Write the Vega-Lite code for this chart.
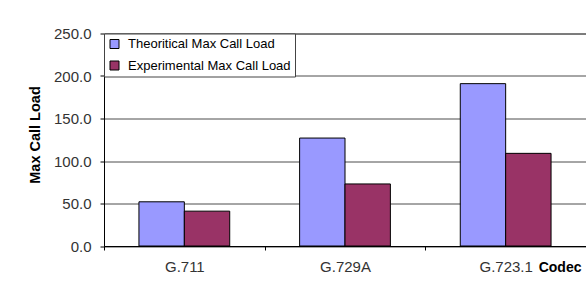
{
  "$schema": "https://vega.github.io/schema/vega-lite/v6.json",
  "width": 482,
  "height": 212.5,
  "autosize": {"type": "none"},
  "padding": {"left": 104, "top": 33.5, "right": 0, "bottom": 42},
  "background": "white",
  "config": {
    "font": "Liberation Sans",
    "view": {"stroke": "#808080", "strokeWidth": 1}
  },
  "data": {
    "values": [
      {"codec": "G.711", "series": "Theoritical Max Call Load", "value": 52},
      {"codec": "G.711", "series": "Experimental Max Call Load", "value": 41},
      {"codec": "G.729A", "series": "Theoritical Max Call Load", "value": 127},
      {"codec": "G.729A", "series": "Experimental Max Call Load", "value": 73},
      {"codec": "G.723.1", "series": "Theoritical Max Call Load", "value": 191},
      {"codec": "G.723.1", "series": "Experimental Max Call Load", "value": 109}
    ]
  },
  "mark": {"type": "bar", "stroke": "black", "strokeWidth": 1},
  "encoding": {
    "x": {
      "field": "codec",
      "type": "nominal",
      "sort": ["G.711", "G.729A", "G.723.1"],
      "scale": {"paddingInner": 0, "paddingOuter": 0},
      "axis": {
        "title": "Codec",
        "titleFontSize": 14,
        "titleFontWeight": "bold",
        "titleColor": "black",
        "titleAnchor": "end",
        "titleAlign": "right",
        "titleBaseline": "middle",
        "titleX": 477,
        "titleY": 21,
        "labelAngle": 0,
        "labelFontSize": 15,
        "labelColor": "#333",
        "labelPadding": 9,
        "tickSize": 4,
        "tickColor": "black",
        "tickBand": "extent",
        "domainColor": "black",
        "grid": false
      }
    },
    "xOffset": {
      "field": "series",
      "type": "nominal",
      "sort": ["Theoritical Max Call Load", "Experimental Max Call Load"],
      "scale": {"paddingInner": 0, "paddingOuter": 0.77}
    },
    "y": {
      "field": "value",
      "type": "quantitative",
      "scale": {"domain": [0, 250], "nice": false},
      "axis": {
        "title": "Max Call Load",
        "titleFontSize": 14.5,
        "titleFontWeight": "bold",
        "titleColor": "black",
        "titleAngle": 270,
        "titleAlign": "center",
        "titleBaseline": "middle",
        "titleX": -69,
        "titleY": 101,
        "values": [0, 50, 100, 150, 200, 250],
        "format": ".1f",
        "labelFontSize": 15,
        "labelColor": "#333",
        "labelPadding": 9,
        "tickSize": 4,
        "tickColor": "black",
        "domainColor": "black",
        "gridColor": "black",
        "gridOpacity": 0.7
      }
    },
    "color": {
      "field": "series",
      "type": "nominal",
      "sort": ["Theoritical Max Call Load", "Experimental Max Call Load"],
      "scale": {"range": ["#9999FF", "#993366"]},
      "legend": {
        "title": null,
        "orient": "none",
        "legendX": 0,
        "legendY": 0,
        "fillColor": "white",
        "strokeColor": "#444",
        "padding": 4,
        "rowPadding": 7.5,
        "symbolType": "square",
        "symbolSize": 81,
        "symbolStrokeColor": "black",
        "symbolStrokeWidth": 1,
        "symbolOpacity": 1,
        "labelFontSize": 13,
        "labelColor": "black",
        "labelOffset": 7,
        "labelLimit": 300
      }
    }
  }
}
